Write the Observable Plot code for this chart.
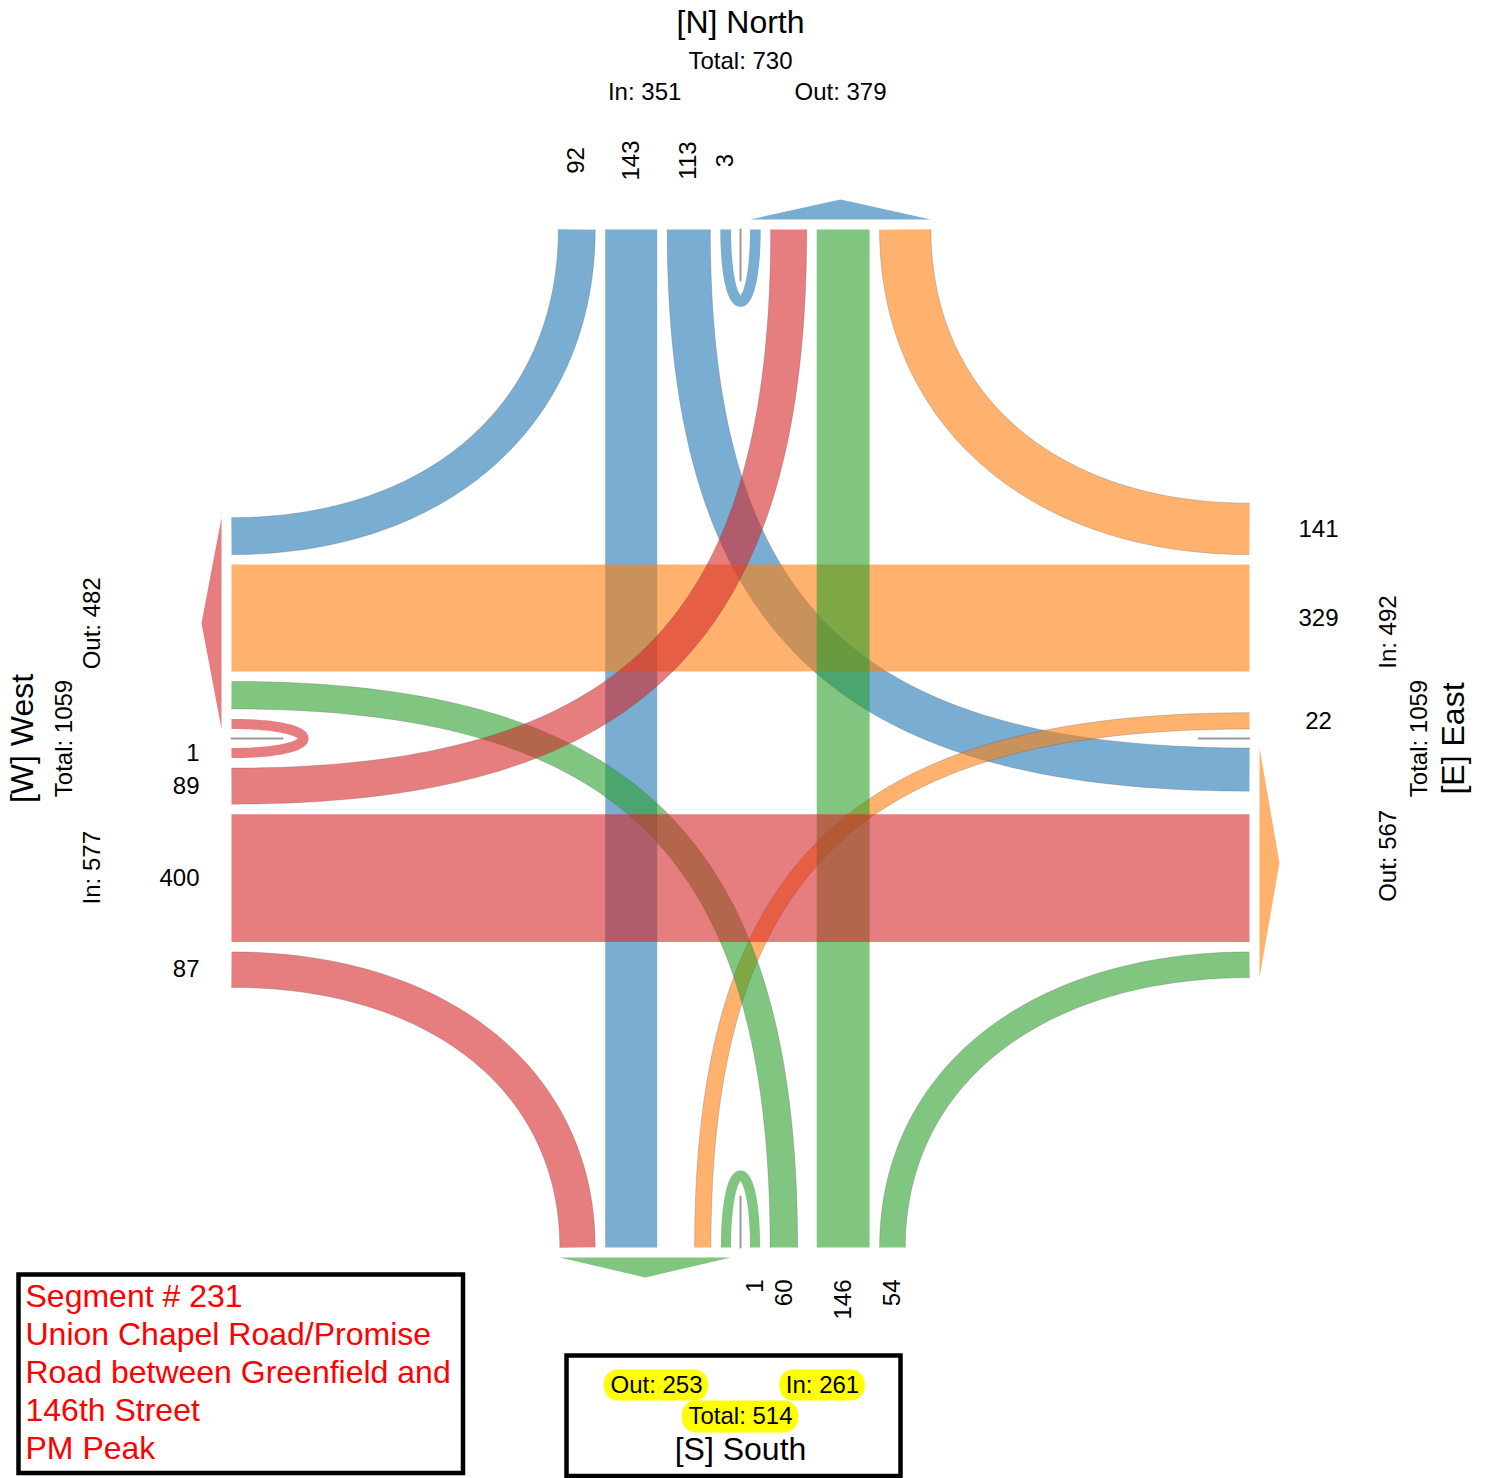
<!DOCTYPE html>
<html><head><meta charset="utf-8">
<script src="https://cdn.jsdelivr.net/npm/d3@7"></script>
<script src="https://cdn.jsdelivr.net/npm/@observablehq/plot@0.6"></script>
<style>html,body{margin:0;padding:0;background:#fff;} svg{display:block}</style>
</head><body><div id="chart"></div>
<script>
// ---------------- data ----------------
const approaches = ["N", "E", "S", "W"];
const approachTitles = ["[N] North", "[E] East", "[S] South", "[W] West"];
const movements = ["U", "L", "T", "R"];          // U-turn, left, through, right
const volumesN = [3, 113, 143, 92];
const volumesE = [0, 22, 329, 141];
const volumesS = [1, 60, 146, 54];
const volumesW = [1, 89, 400, 87];
const approachColors = ["#1f77b4", "#ff7f0e", "#2ca02c", "#d62728"];
const captionLines = ["Segment # 231", "Union Chapel Road/Promise", "Road between Greenfield and", "146th Street", "PM Peak"];

// ---------------- layout ----------------
const W = 1487, H = 1478;
const cx = 740, cy = 738, half = 509;
const K = 0.295, C0 = 33.2, gap = 10, d0 = 9.5;
const fontFam = "'Liberation Sans', Arial, Helvetica, sans-serif";
const bw = v => K * (v + C0);
const vol = {N: volumesN, E: volumesE, S: volumesS, W: volumesW};
const color = a => approachColors[approaches.indexOf(a)];
const idx = a => approaches.indexOf(a);
const next = a => approaches[(idx(a) + 1) % 4];
const prev = a => approaches[(idx(a) + 3) % 4];
const opp = a => approaches[(idx(a) + 2) % 4];
const V = (a, m) => vol[a][movements.indexOf(m)];
const destOf = (a, m) => m === "U" ? a : m === "L" ? next(a) : m === "T" ? opp(a) : prev(a);

function edgePt(a, s, out = 0) {
  switch (a) {
    case "N": return [cx - s, cy - half - out];
    case "E": return [cx + half + out, cy - s];
    case "S": return [cx + s, cy + half + out];
    case "W": return [cx - half - out, cy + s];
  }
}
const inward = {N: [0, 1], E: [-1, 0], S: [0, -1], W: [1, 0]};

function pack(list, start) {
  let p = start; const res = [];
  for (const [k, v] of list) { const w = bw(v); res.push({k, v, w, mid: p + w / 2}); p += w + gap; }
  return {res, end: p};
}
const inSlot = {}, outSlot = {}, inExt = {}, outExt = {};
approaches.forEach(a => { inSlot[a] = {}; outSlot[a] = {}; });
approaches.forEach(a => {
  const b = opp(a), xL = prev(b), xR = next(b);
  const iIn = pack([["U", V(a, "U")], ["L", V(a, "L")]].filter(d => d[1] > 0), d0);
  const iOut = pack([[b, V(b, "U")], [xL, V(xL, "L")]].filter(d => d[1] > 0), d0);
  const tStart = Math.max(iIn.end, iOut.end);
  const tw = bw(V(a, "T"));
  const oIn = pack([["R", V(a, "R")]].filter(d => d[1] > 0), tStart + tw + gap);
  const oOut = pack([[xR, V(xR, "R")]].filter(d => d[1] > 0), tStart + tw + gap);
  iIn.res.concat(oIn.res).forEach(r => inSlot[a][r.k] = r);
  inSlot[a]["T"] = {v: V(a, "T"), w: tw, mid: tStart + tw / 2};
  iOut.res.concat(oOut.res).forEach(r => outSlot[b][r.k] = r);
  outSlot[b][a] = {v: V(a, "T"), w: tw, mid: tStart + tw / 2};
  inExt[a] = [d0, oIn.end - gap];
  outExt[b] = [d0, oOut.end - gap];
});

function cubic(P0, P1, P2, P3, n = 90) {
  const pts = [];
  for (let i = 0; i <= n; i++) {
    const t = i / n, u = 1 - t;
    const a = u * u * u, b = 3 * u * u * t, c = 3 * u * t * t, d = t * t * t;
    pts.push({x: a * P0[0] + b * P1[0] + c * P2[0] + d * P3[0], y: a * P0[1] + b * P1[1] + c * P2[1] + d * P3[1]});
  }
  return pts;
}
function offsetPts(pts, off) {
  return pts.map((p, i) => {
    const p0 = pts[Math.max(0, i - 1)], p1 = pts[Math.min(pts.length - 1, i + 1)];
    const dx = p1.x - p0.x, dy = p1.y - p0.y, L = Math.hypot(dx, dy) || 1;
    return {x: p.x - dy / L * off, y: p.y + dx / L * off};
  });
}

const loopDepth = 96, fLeft = 0.72, fRight = 0.6;
const bands = [];
approaches.forEach(a => {
  movements.forEach(m => {
    const v = V(a, m);
    if (!(v > 0)) return;
    const d = destOf(a, m);
    const sIn = inSlot[a][m], sOut = outSlot[d][a];
    const P0 = edgePt(a, sIn.mid), P3 = edgePt(d, -sOut.mid);
    let pts;
    if (m === "T") pts = [{x: P0[0], y: P0[1]}, {x: P3[0], y: P3[1]}];
    else if (m === "U") {
      const dir = inward[a];
      pts = cubic(P0, [P0[0] + dir[0] * loopDepth, P0[1] + dir[1] * loopDepth],
                      [P3[0] + dir[0] * loopDepth, P3[1] + dir[1] * loopDepth], P3);
    } else {
      const corner = inward[a][0] === 0 ? [P0[0], P3[1]] : [P3[0], P0[1]];
      const f = m === "L" ? fLeft : fRight;
      pts = cubic(P0, [P0[0] + f * (corner[0] - P0[0]), P0[1] + f * (corner[1] - P0[1])],
                      [P3[0] + f * (corner[0] - P3[0]), P3[1] + f * (corner[1] - P3[1])], P3);
    }
    bands.push({a, m, v, w: sIn.w, color: color(a), pts});
  });
});

const marks = [];
bands.forEach(b => {
  marks.push(Plot.line(b.pts, {x: "x", y: "y", stroke: b.color, strokeWidth: b.w, strokeOpacity: 0.6,
    strokeLinecap: "butt", strokeLinejoin: "round"}));
  if (b.m === "L" || b.m === "R") {
    [b.w / 2, -b.w / 2].forEach(o => marks.push(Plot.line(offsetPts(b.pts, o), {x: "x", y: "y",
      stroke: "#555", strokeWidth: 0.6, strokeOpacity: 0.45})));
  }
});

// centre lines
approaches.forEach(a => {
  const p = edgePt(a, 0, 0), q = edgePt(a, 0, -51);
  marks.push(Plot.line([{x: p[0], y: p[1]}, {x: q[0], y: q[1]}], {x: "x", y: "y", stroke: "#999", strokeWidth: 2}));
});

// outbound arrows
approaches.forEach(a => {
  const [s0, s1] = outExt[a];
  const pa = edgePt(a, -s0, 10), pb = edgePt(a, -s1, 10), pc = edgePt(a, -(s0 + s1) / 2, 30);
  marks.push(Plot.line([pa, pc, pb, pa].map(p => ({x: p[0], y: p[1]})), {x: "x", y: "y",
    fill: color(a), fillOpacity: 0.6, stroke: "none"}));
});

// movement labels
const labelSpec = {
  N: {out: 69, rotate: -90, textAnchor: "middle"},
  E: {out: 69, rotate: 0, textAnchor: "middle"},
  S: {out: 32, rotate: -90, textAnchor: "end"},
  W: {out: 32, rotate: 0, textAnchor: "end"}
};
approaches.forEach(a => {
  const lab = movements.filter(m => V(a, m) > 0).map(m => {
    const p = edgePt(a, inSlot[a][m].mid, labelSpec[a].out);
    return {x: p[0], y: p[1], text: String(V(a, m))};
  });
  marks.push(Plot.text(lab, {x: "x", y: "y", text: "text", rotate: labelSpec[a].rotate,
    textAnchor: labelSpec[a].textAnchor, fontSize: 24, fontFamily: fontFam, fill: "black"}));
});

// approach summaries
const sum = arr => arr.reduce((s, v) => s + v, 0);
const inTot = a => sum(vol[a]);
const outTot = d => approaches.reduce((s, a) => s + sum(movements.map(m => destOf(a, m) === d ? V(a, m) : 0)), 0);
const sideSpec = {
  N: {rotate: 0, title: 207, total: 168, io: 137, inShift: 0, outShift: 0},
  E: {rotate: -90, title: 204, total: 170, io: 139, inShift: -16, outShift: -7},
  W: {rotate: -90, title: 209, total: 167, io: 139, inShift: 0, outShift: 0}
};
["N", "E", "W"].forEach(a => {
  const sp = sideSpec[a];
  const t = edgePt(a, 0, sp.title), tt = edgePt(a, 0, sp.total);
  const pi = edgePt(a, (inExt[a][0] + inExt[a][1]) / 2 + sp.inShift, sp.io);
  const po = edgePt(a, -((outExt[a][0] + outExt[a][1]) / 2 + sp.outShift), sp.io);
  marks.push(Plot.text([{x: t[0], y: t[1], text: approachTitles[idx(a)]}], {x: "x", y: "y", text: "text",
    rotate: sp.rotate, fontSize: 32, fontFamily: fontFam, fill: "black"}));
  marks.push(Plot.text([
    {x: tt[0], y: tt[1], text: `Total: ${inTot(a) + outTot(a)}`},
    {x: pi[0], y: pi[1], text: `In: ${inTot(a)}`},
    {x: po[0], y: po[1], text: `Out: ${outTot(a)}`}
  ], {x: "x", y: "y", text: "text", rotate: sp.rotate, fontSize: 24, fontFamily: fontFam, fill: "black"}));
});

// south box
const ctx = document.createElement("canvas").getContext("2d");
ctx.font = "24px 'Liberation Sans'";
const sBox = {x1: 566.5, x2: 900.5, y1: 1355.5, y2: 1476};
const sTexts = [
  {x: cx - 84, y: 1385, text: `Out: ${outTot("S")}`},
  {x: cx + 82, y: 1385, text: `In: ${inTot("S")}`},
  {x: cx, y: 1416, text: `Total: ${inTot("S") + outTot("S")}`}
];
const hl = sTexts.map((t, i) => {
  const w = ctx.measureText(t.text).width;
  return {x1: t.x - w / 2 - 6, x2: t.x + w / 2 + 6, y1: t.y - 15.5, y2: t.y + 15.5 + (i === 2 ? 1 : 0)};
});
marks.push(Plot.rect([sBox], {x1: "x1", x2: "x2", y1: "y1", y2: "y2", fill: "white", stroke: "black", strokeWidth: 4.5}));
marks.push(Plot.rect(hl, {x1: "x1", x2: "x2", y1: "y1", y2: "y2", fill: "#ffff00", rx: 14}));
marks.push(Plot.text(sTexts, {x: "x", y: "y", text: "text", fontSize: 24, fontFamily: fontFam, fill: "black"}));
marks.push(Plot.text([{x: cx, y: 1449, text: approachTitles[idx("S")]}], {x: "x", y: "y", text: "text",
  fontSize: 32, fontFamily: fontFam, fill: "black"}));

// caption box
const cBox = {x1: 18.5, x2: 463, y1: 1274.5, y2: 1473};
marks.push(Plot.rect([cBox], {x1: "x1", x2: "x2", y1: "y1", y2: "y2", fill: "white", stroke: "black", strokeWidth: 4.5}));
marks.push(Plot.text(captionLines.map((t, i) => ({x: 25, y: 1296 + 38 * i, text: t})), {x: "x", y: "y", text: "text",
  textAnchor: "start", fontSize: 32, fontFamily: fontFam, fill: "#ff0000"}));

const chart = Plot.plot({
  width: W, height: H,
  marginTop: 0, marginRight: 0, marginBottom: 0, marginLeft: 0,
  x: {domain: [0, W], range: [0, W], axis: null},
  y: {domain: [0, H], range: [0, H], axis: null},
  style: {background: "white", fontFamily: fontFam},
  marks
});
document.getElementById("chart").appendChild(chart);
</script>
</body></html>
